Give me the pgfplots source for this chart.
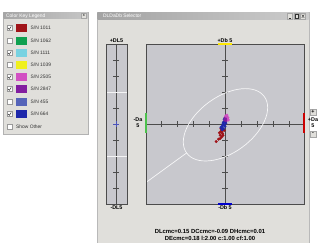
\documentclass[border=0pt]{standalone}
\usepackage{pgfplots}
\pgfplotsset{compat=1.18}
\usepackage{fontspec}
\setmainfont{Liberation Sans}
\definecolor{winbg}{RGB}{224,223,219}
\definecolor{plotbg}{RGB}{200,200,205}
\definecolor{cA}{RGB}{160,20,25}
\definecolor{cB}{RGB}{15,160,80}
\definecolor{cC}{RGB}{120,210,225}
\definecolor{cD}{RGB}{240,240,30}
\definecolor{cE}{RGB}{210,80,195}
\definecolor{cF}{RGB}{130,30,160}
\definecolor{cG}{RGB}{85,100,185}
\definecolor{cH}{RGB}{30,40,170}
\newcommand{\tf}{\fontsize{5.4}{6}\selectfont\bfseries}
\newcommand{\btf}{\fontsize{5.9}{6}\selectfont\bfseries}
\newcommand{\lf}{\fontsize{4.9}{5}\selectfont}
\pgfplotstableread{
x y
-0.35 -0.55
-0.30 -0.70
-0.25 -0.45
-0.20 -0.80
-0.15 -0.60
-0.10 -0.35
-0.30 -0.90
-0.40 -0.95
-0.55 -1.10
-0.20 -0.50
-0.05 -0.40
-0.25 -0.30
-0.12 -0.70
}\snA
\pgfplotstableread{
x y
-0.10 0.10
-0.05 -0.05
0.00 0.20
-0.15 -0.10
-0.20 -0.25
0.05 0.05
-0.10 -0.30
0.00 -0.15
-0.05 0.30
-0.25 -0.20
0.02 0.10
-0.12 0.00
-0.18 -0.35
}\snH
\pgfplotstableread{
x y
0.05 0.35
0.10 0.45
0.00 0.40
0.15 0.30
0.08 0.20
-0.02 0.25
}\snF
\pgfplotstableread{
x y
0.12 0.55
0.18 0.40
0.05 0.50
0.20 0.25
}\snE
\pgfplotstableread{
x y
-0.08 0.05
-0.15 -0.15
}\snC
\begin{document}
\begin{tikzpicture}[x=1pt,y=1pt]
\path[use as bounding box] (0,0) rectangle (322,243);
\fill[white] (0,0) rectangle (322,243);
% ---------- legend window ----------
\fill[winbg] (3,109) rectangle (88,231);
\draw[gray!60, line width=0.5] (3,109) rectangle (88,231);
\shade[left color=gray!70, right color=gray!45] (3.5,224) rectangle (87.5,230.5);
\node[anchor=west, inner sep=0, text=white, font=\lf] at (6,227.2) {Color Key Legend};
\draw[gray!70, fill=winbg, line width=0.3] (81,225) rectangle (86.5,229.5);
\node[inner sep=0, font=\fontsize{4}{4}\selectfont] at (83.75,227.2) {x};
\foreach \yy/\col/\lab/\chk in {215/cA/1011/1, 202/cB/1062/0, 190/cC/1111/1, 178/cD/1039/0, 166/cE/2505/1, 154/cF/2847/1, 141/cG/455/0, 129/cH/664/1}{
  \fill[white] (7,\yy-2.5) rectangle (12,\yy+2.5);
  \draw[gray!80, line width=0.3] (7,\yy-2.5) rectangle (12,\yy+2.5);
  \ifnum\chk=1 \draw[black!80, line width=0.5] (8,\yy) -- (9.3,\yy-1.4) -- (11.2,\yy+1.6); \fi
  \fill[\col] (16,\yy-4) rectangle (27,\yy+4);
  \node[anchor=west, inner sep=0, font=\lf, text=black!80] at (30.5,\yy) {S/N \lab};
}
\fill[white] (7,113.5) rectangle (12,118.5);
\draw[gray!80, line width=0.3] (7,113.5) rectangle (12,118.5);
\node[anchor=west, inner sep=0, font=\lf, text=black!80] at (16,116) {Show Other};
% ---------- main window ----------
\fill[winbg] (97,0) rectangle (309,231);
\draw[gray!55, line width=0.5] (97,0) -- (97,231) -- (309,231) -- (309,0);
\shade[left color=gray!72, right color=gray!40] (97.5,223) rectangle (308.5,230.5);
\node[anchor=west, inner sep=0, text=white, font=\lf] at (103,226.8) {DLDaDb Selector};
\foreach \bx in {290,296.5,303}{
  \draw[gray!70, fill=winbg, line width=0.3] (\bx-2.6,224) rectangle (\bx+2.6,229.6);
}
\draw[black!80, line width=0.5] (288.7,225.2) -- (291,225.2);
\draw[black!80, line width=0.4] (295.2,225.2) rectangle (297.8,228.4);
\draw[black!80, line width=0.4] (301.8,225.2) -- (304.2,228.4) (301.8,228.4) -- (304.2,225.2);
% ---------- DL panel ----------
\begin{axis}[at={(106pt,39pt)}, anchor=south west, width=21pt, height=160pt, scale only axis,
  xmin=-1, xmax=1, ymin=-5, ymax=5, axis x line=none, axis y line=middle,
  axis line style={-, black!70, line width=0.5},
  ytick={-4,-3,-1,1,3,4}, yticklabels={}, tick align=center, major tick length=6pt,
  tick style={black!70, line width=0.5},
  axis background/.style={fill=plotbg}, clip=true]
\draw[white!80!plotbg, line width=0.6] (axis cs:-1,2) -- (axis cs:1,2);
\draw[white!80!plotbg, line width=0.6] (axis cs:-1,-2) -- (axis cs:1,-2);
\addplot[only marks, mark=+, mark size=3pt, mark options={line width=0.8}, color=cH!80!white] coordinates {(0,0)};
\end{axis}
\draw[black!70, line width=0.7] (106,39) rectangle (127,199);
\node[anchor=south, inner sep=0.5, font=\tf] at (116.5,200) {+DL5};
\node[anchor=north, inner sep=0.5, font=\tf] at (116.5,38) {-DL5};
% ---------- main plot ----------
\begin{axis}[at={(146pt,39pt)}, anchor=south west, width=158pt, height=160pt, scale only axis,
  xmin=-4.9375, xmax=4.9375, ymin=-5, ymax=5, axis lines=middle,
  axis line style={-, black!70, line width=0.5},
  xtick={-4,-3,-2,-1,1,2,3,4}, ytick={-4,-3,-2,-1,1,2,3,4},
  xticklabels={}, yticklabels={}, tick align=center, major tick length=6pt,
  tick style={black!70, line width=0.5},
  axis background/.style={fill=plotbg}, clip=true]
\draw[white!85!plotbg, line width=0.7] (axis cs:0.03,-0.05) ellipse [x radius=48pt, y radius=28pt, rotate=36];
\draw[white!85!plotbg, line width=0.7] (axis cs:-2.40,-1.81) -- (axis cs:-6.5,-4.79);
\addplot[only marks, mark=*, mark size=1.3pt, color=cC] table {\snC};
\addplot[only marks, mark=*, mark size=1.3pt, color=cA] table {\snA};
\addplot[only marks, mark=*, mark size=1.3pt, color=cH] table {\snH};
\addplot[only marks, mark=*, mark size=1.3pt, color=cF] table {\snF};
\addplot[only marks, mark=*, mark size=1.3pt, color=cE] table {\snE};
\end{axis}
\draw[black!70, line width=0.7] (146,39) rectangle (304,199);
\draw[green!65!black!70!white, line width=1.1] (146,110) -- (146,130);
\draw[red!80!black, line width=1.1] (304,110) -- (304,130);
\draw[yellow!90!orange, line width=1.1] (218,199) -- (232,199);
\draw[blue!80!black, line width=1.1] (218,39) -- (232,39);
\node[anchor=south, inner sep=0.5, font=\tf] at (225,200) {+Db 5};
\node[anchor=north, inner sep=0.5, font=\tf] at (225,38) {-Db 5};
\node[align=center, inner sep=0, font=\tf] at (138,120) {-Da\\5};
\node[align=center, inner sep=0, font=\tf] at (313,120) {+Da\\5};
\draw[gray!70, fill=winbg, line width=0.3] (310,128) rectangle (316,134);
\node[inner sep=0, font=\tf] at (313,131) {+};
\draw[gray!70, fill=winbg, line width=0.3] (310,106) rectangle (316,112);
\node[inner sep=0, font=\tf] at (313,109) {-};
% ---------- bottom text ----------
\node[inner sep=0, font=\btf] at (210,11.5) {DLcmc=0.15 DCcmc=-0.09 DHcmc=0.01};
\node[inner sep=0, font=\btf] at (210,5) {DEcmc=0.18 l:2.00 c:1.00 cf:1.00};
\end{tikzpicture}
\end{document}
